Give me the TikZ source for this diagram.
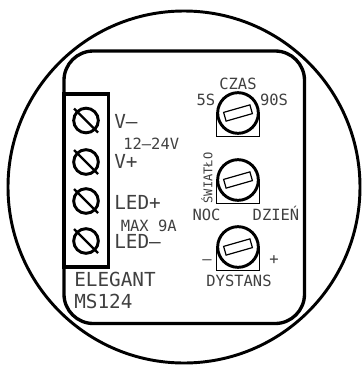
\documentclass[tikz,border=0pt]{standalone}
\usepackage{fontspec}
\setmainfont{DejaVu Sans Mono}
\usepackage{tikz}
\tikzset{
  heavyline/.style={line width=2.5pt},
  screwhead/.style={circle,draw,line width=2.2pt,minimum size=18.5pt,inner sep=0pt},
  knobbase/.style={draw,line width=1.1pt},
  knobhead/.style={circle,draw,fill=white,line width=2.2pt,minimum size=30.5pt,inner sep=0pt},
  knobslot/.style={draw,fill=white,line width=0.9pt,minimum width=20.5pt,minimum height=6.8pt,inner sep=0pt,rotate=16},
  lbl/.style={font=\fontsize{14.5}{14.5}\selectfont,inner sep=0pt,text height=10pt,text depth=0pt,text=black!75},
  lblsmall/.style={font=\fontsize{11.6}{11.6}\selectfont,inner sep=0pt,text height=8.5pt,text depth=0pt,text=black!75},
  lbltiny/.style={font=\fontsize{9}{9}\selectfont,inner sep=0pt,text height=6.6pt,text depth=0pt,text=black!75}
}
\begin{document}
\begin{tikzpicture}[x=0.75pt,y=0.75pt,yscale=-1]
\useasboundingbox (0,0) rectangle (362,365);

%Shape: outer ring
\draw [line width=2.2pt] (184,187) circle (176);
%Shape: housing
\draw [heavyline,rounded corners=22pt] (64,51) rectangle (304.5,323.5);
%Shape: terminal block
\draw [heavyline] (64,94) rectangle (108.5,267);

%Screws
\foreach \name/\y in {sa/120.5,sb/162,sc/201,sd/241}{
  \node [screwhead] (\name) at (86,\y) {};
  \draw [line width=1.8pt] (\name.center) ++(-12,-12) coordinate (\name a) ++(24,24) coordinate (\name b);
  \draw [line width=1.8pt] (\name a) -- (\name b);
}

% Text Node
\node [lbl,anchor=west] (lvm) at (114,122) {V–};
\node [lblsmall,anchor=west] (lvolt) at (123,144) {12–24V};
\node [lbl,anchor=west] (lvp) at (114,162) {V+};
\node [lbl,anchor=west] (llp) at (114,203) {LED+};
\node [lblsmall,anchor=west] (lmax) at (120.5,226) {MAX 9A};
\node [lbl,anchor=west] (llm) at (114,242) {LED–};
\node [lbl,anchor=west] (lel) at (74,280) {ELEGANT};
\node [lbl,anchor=west] (lms) at (74,302) {MS124};

%Knobs
\foreach \name/\y in {ka/113,kb/180,kc/247}{
  \draw [knobbase] (216.5,\y) rectangle (259.5,\y+23.5);
  \node [knobhead] (\name) at (238,\y) {};
  \node [knobslot] (\name slot) at (\name) {};
}

% Text Node
\node [lblsmall] (lczas) at (238,84) {CZAS};
\node [lblsmall] (lfive) at (206,100) {5S};
\node [lblsmall] (lninety) at (274,100) {90S};
\node [lbltiny,rotate=90] (lswi) at (208,178) {ŚWIATŁO};
\node [lblsmall] (lnoc) at (206.5,215) {NOC};
\node [lblsmall] (ldzien) at (276,215) {DZIEŃ};
\node [lblsmall] (lminus) at (207,259) {–};
\node [lblsmall] (lplus) at (274,259) {+};
\node [lblsmall] (ldys) at (239,281) {DYSTANS};
\end{tikzpicture}
\end{document}
